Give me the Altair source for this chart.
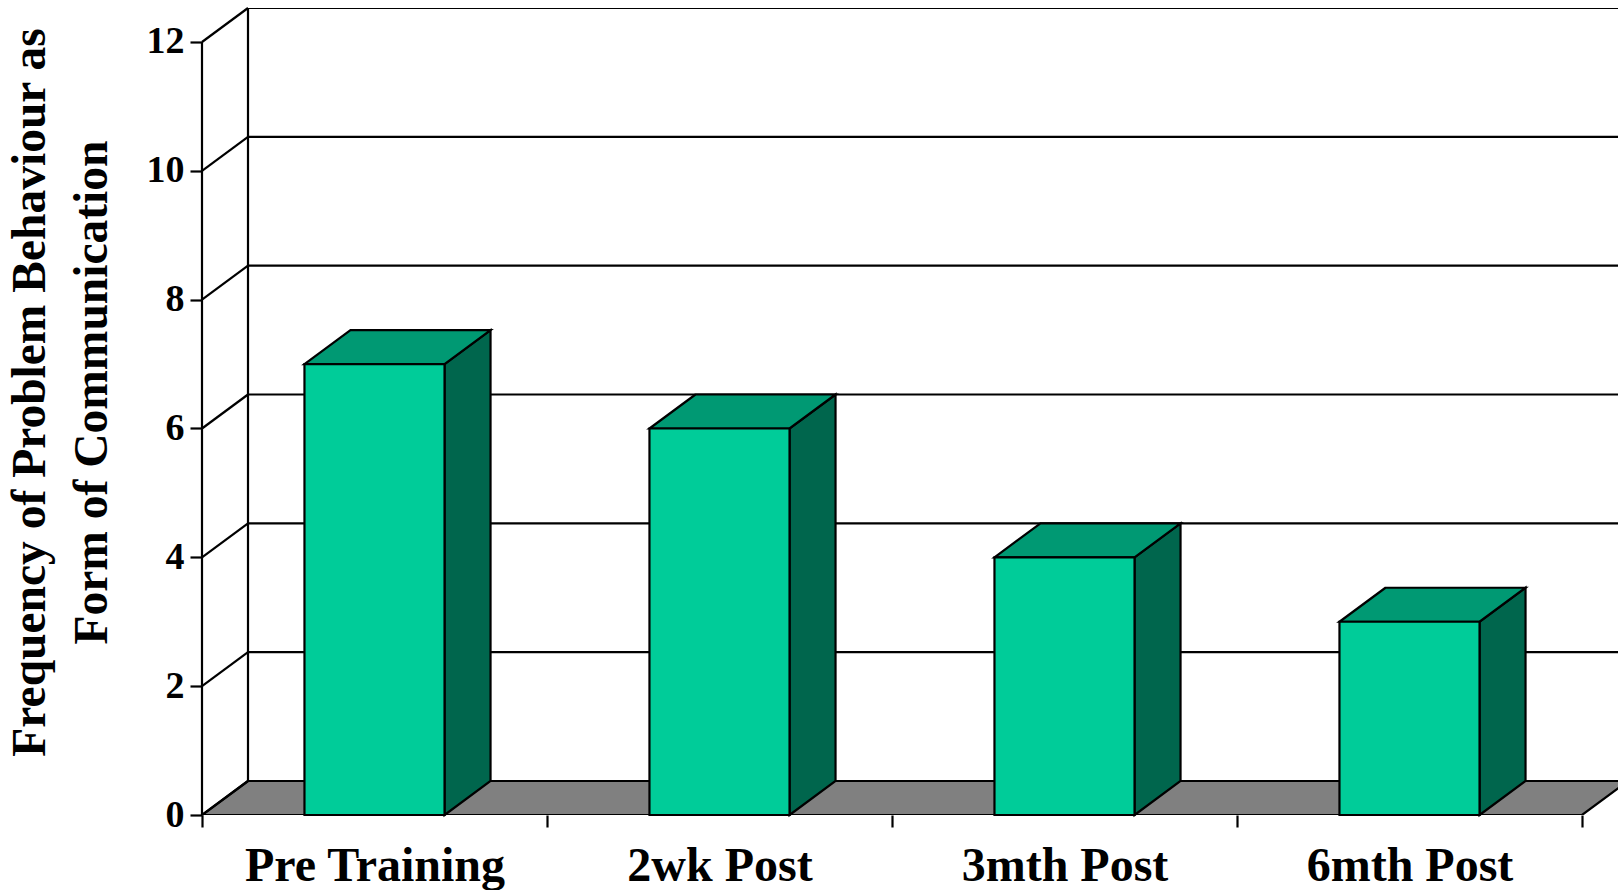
import json
import altair as alt
import pandas as pd

# ---------------- data ----------------
categories = ["Pre Training", "2wk Post", "3mth Post", "6mth Post"]
values = [7, 6, 4, 3]
y_ticks = [0, 2, 4, 6, 8, 10, 12]
y_title = ["Frequency of Problem Behaviour as", "Form of Communication"]

# ---------------- style / geometry ----------------
W, H = 1416, 807
PX_PER_CAT = 345.0
PX_PER_UNIT = 64.42
DX = 46 / PX_PER_CAT      # depth offset (category units)
DY = 34 / PX_PER_UNIT     # depth offset (value units)
HALF = 0.203              # half bar width (category units)
YMAX = max(y_ticks)
XMAX = W / PX_PER_CAT
N = len(categories)

FRONT = "#00CC99"
TOP = "#009973"
SIDE = "#00664D"
FLOOR = "#808080"
FONT = "Liberation Serif"
LW = 2.2

xs = alt.Scale(domain=[0, XMAX], nice=False, zero=False)
ys = alt.Scale(domain=[0, YMAX + DY], nice=False, zero=False)

# ---------------- derived tables ----------------
bars = pd.DataFrame({"label": categories, "value": values, "i": range(N)})
bars["x0"] = bars["i"] + 0.5 - HALF
bars["x1"] = bars["i"] + 0.5 + HALF
bars["base"] = 0.0

side_rows, top_rows = [], []
for rec in bars.to_dict("records"):
    lab, v, x0, x1 = rec["label"], rec["value"], rec["x0"], rec["x1"]
    side_rows.append({"label": lab, "x": x1, "lo": 0.0, "hi": v})
    side_rows.append({"label": lab, "x": x1 + DX, "lo": DY, "hi": v + DY})
    top_rows.append({"label": lab, "y": v, "l": x0, "r": x1})
    top_rows.append({"label": lab, "y": v + DY, "l": x0 + DX, "r": x1 + DX})
side = pd.DataFrame(side_rows)
top = pd.DataFrame(top_rows)

floor = pd.DataFrame({"y": [0.0, DY], "l": [0.0, DX], "r": [float(N), N + DX]})
diag = pd.DataFrame({"x": 0.0, "x2": DX, "y": y_ticks, "y2": [k + DY for k in y_ticks]})
back = pd.DataFrame({"x": DX, "x2": N + DX, "y": [k + DY for k in y_ticks[1:]]})
back_edge = pd.DataFrame({"x": [DX], "y": [DY], "y2": [YMAX + DY]})
front_edge = pd.DataFrame({"x": [0.0], "y": [0.0], "y2": [float(YMAX)]})

x_vals = [k / 2 for k in range(2 * N + 1)]
label_expr = f"datum.value % 1 != 0 ? {json.dumps(categories)}[floor(datum.value)] : ''"

x_axis = alt.Axis(
    values=x_vals, labelExpr=label_expr, tickSize=12, tickWidth=LW, tickColor="black",
    tickOpacity={"condition": {"test": "datum.value % 1 != 0", "value": 0}, "value": 1},
    domain=False, grid=False, title=None, labelFont=FONT, labelFontWeight="bold",
    labelFontSize=48, labelColor="black", labelPadding=15, labelAngle=0, labelLimit=0,
    labelOverlap=False, labelFlush=False, labelBound=False,
)
y_axis = alt.Axis(
    values=y_ticks, tickSize=12, tickWidth=LW, tickColor="black", domain=False, grid=False,
    labelFont=FONT, labelFontWeight="bold", labelFontSize=38, labelColor="black",
    labelPadding=6, title=y_title, titleFont=FONT, titleFontWeight="bold",
    titleFontSize=47.5, titleColor="black", titleLineHeight=62, titleX=-148, titleY=384,
    titleBaseline="bottom", titleAlign="center", titleAngle=270, titleLimit=0,
)


def X(field):
    return alt.X(field, scale=xs, axis=x_axis)


def Y(field):
    return alt.Y(field, scale=ys, axis=y_axis)


floor_layer = alt.Chart(floor).mark_area(
    orient="horizontal", fill=FLOOR, stroke="black", strokeWidth=LW, clip=True
).encode(y=Y("y:Q"), x=X("l:Q"), x2="r:Q")

back_layer = alt.Chart(back).mark_rule(stroke="black", strokeWidth=LW, clip=True).encode(
    x=X("x:Q"), x2="x2:Q", y=Y("y:Q")
)
diag_layer = alt.Chart(diag).mark_rule(stroke="black", strokeWidth=LW).encode(
    x=X("x:Q"), x2="x2:Q", y=Y("y:Q"), y2="y2:Q"
)
back_edge_layer = alt.Chart(back_edge).mark_rule(stroke="black", strokeWidth=LW).encode(
    x=X("x:Q"), y=Y("y:Q"), y2="y2:Q"
)
front_edge_layer = alt.Chart(front_edge).mark_rule(stroke="black", strokeWidth=LW).encode(
    x=X("x:Q"), y=Y("y:Q"), y2="y2:Q"
)

side_layer = alt.Chart(side).mark_area(
    orient="vertical", fill=SIDE, stroke="black", strokeWidth=LW
).encode(x=X("x:Q"), y=Y("lo:Q"), y2="hi:Q", detail="label:N")

top_layer = alt.Chart(top).mark_area(
    orient="horizontal", fill=TOP, stroke="black", strokeWidth=LW
).encode(y=Y("y:Q"), x=X("l:Q"), x2="r:Q", detail="label:N")

front_layer = alt.Chart(bars).mark_rect(fill=FRONT, stroke="black", strokeWidth=LW).encode(
    x=X("x0:Q"), x2="x1:Q", y=Y("base:Q"), y2="value:Q"
)

chart = alt.layer(
    floor_layer, back_layer, diag_layer, back_edge_layer, front_edge_layer,
    side_layer, top_layer, front_layer,
).properties(
    width=W, height=H,
    autosize=alt.AutoSizeParams(type="none"),
    padding={"left": 202, "top": 8, "right": 0, "bottom": 75},
    background="white",
).configure_view(stroke=None)

chart.save("out.html", embed_options={"renderer": "svg", "actions": False})
